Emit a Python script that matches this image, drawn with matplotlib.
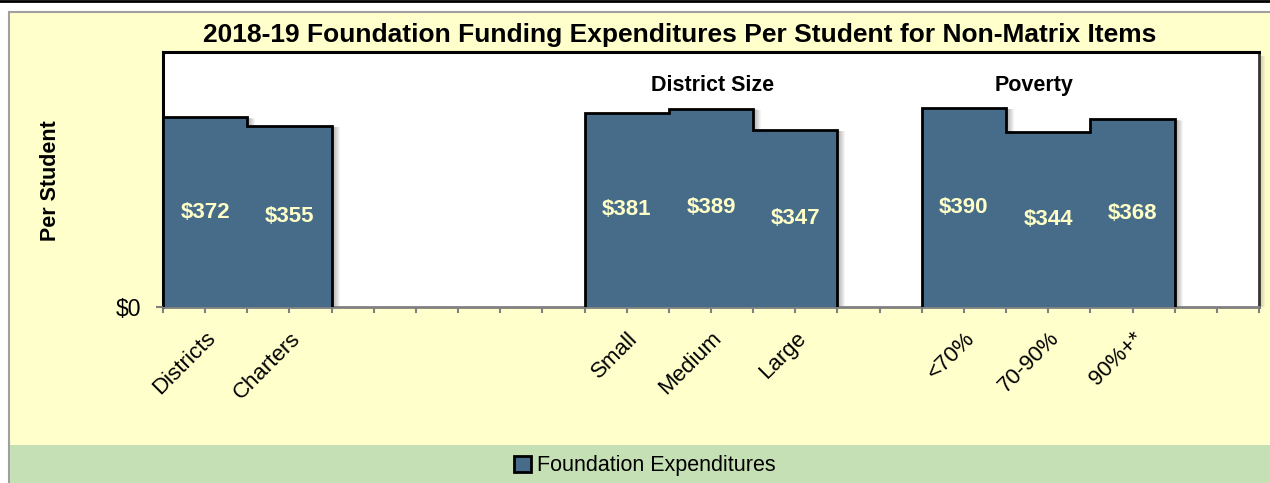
import numpy as np
import matplotlib
matplotlib.use("Agg")
import matplotlib.pyplot as plt
from matplotlib import font_manager
from matplotlib.patches import Rectangle
from matplotlib.lines import Line2D

# data
categories = ['Districts', 'Charters', '', '', '', 'Small', 'Medium', 'Large',
              '', '<70%', '70-90%', '90%+*', '']
values = [372, 355, np.nan, np.nan, np.nan, 381, 389, 347,
          np.nan, 390, 344, 368, np.nan]
group_labels = ['District Size', 'Poverty']
series_name = 'Foundation Expenditures'
title = '2018-19 Foundation Funding Expenditures Per Student for Non-Matrix Items'

names = {f.name for f in font_manager.fontManager.ttflist}
narrow = 'Liberation Sans Narrow' if 'Liberation Sans Narrow' in names else 'Liberation Sans'
plt.rcParams['font.family'] = [narrow, 'DejaVu Sans']

W, H = 1270, 483
bar_color = '#476C8A'
label_color = '#FFFFC8'
bg_yellow = '#FFFFCC'
bg_green = '#C5E0B4'

fig = plt.figure(figsize=(W / 100, H / 100), dpi=100, facecolor='white')

# background panels
fig.patches.append(Rectangle((9 / W, -0.1), 1, 1.1 - 12 / H, transform=fig.transFigure,
                             facecolor=bg_yellow, edgecolor='#A0A0A0', lw=1.5, zorder=-3))
fig.patches.append(Rectangle((10 / W, 0), 1, 38 / H, transform=fig.transFigure,
                             facecolor=bg_green, edgecolor='none', zorder=-2))
fig.lines.append(Line2D([0, 1], [1 - 1 / H, 1 - 1 / H], transform=fig.transFigure,
                        color='black', lw=2, zorder=-1))
# soft shadow right of the plot area
for k in range(1, 5):
    fig.lines.append(Line2D([(1260 + k) / W] * 2, [1 - 306 / H, 1 - 56 / H],
                            transform=fig.transFigure, color='black',
                            alpha=0.12 * (5 - k) / 4, lw=1, zorder=-1))

ax = fig.add_axes([163 / W, 1 - 307 / H, (1259 - 163) / W, (307 - 52) / H])
ax.set_zorder(2)
ax.set_facecolor('white')
n = len(categories)
ax.set_xlim(-0.5, n - 0.5)
ax.set_ylim(0, 500)

vals = np.array(values, dtype=float)
x = np.arange(n)
has = ~np.isnan(vals)
px_per_cat = (1259 - 163) / n

# find runs of adjacent bars to outline as one shape
runs = []
i = 0
while i < n:
    if has[i]:
        j = i
        while j + 1 < n and has[j + 1]:
            j += 1
        runs.append((i, j))
        i = j + 1
    else:
        i += 1


def outline(i0, i1):
    xs, ys = [i0 - 0.5], [0]
    for k in range(i0, i1 + 1):
        xs += [k - 0.5, k + 0.5]
        ys += [vals[k], vals[k]]
    xs.append(i1 + 0.5)
    ys.append(0)
    return np.array(xs), np.array(ys)


# drop shadow
for i0, i1 in runs:
    xs, ys = outline(i0, i1)
    for k in range(1, 9):
        ax.fill(xs + k / px_per_cat, ys - k * 0.3, color='black', alpha=0.045,
                lw=0, zorder=2)

ax.bar(x[has], vals[has], width=1.0, color=bar_color, edgecolor='none', zorder=3)

for i0, i1 in runs:
    xs, ys = outline(i0, i1)
    ax.plot(xs, ys, color='black', lw=2, zorder=4, solid_joinstyle='miter')

for xi, v in zip(x[has], vals[has]):
    ax.text(xi, v / 2, f'${v:.0f}', ha='center', va='center', color=label_color,
            fontsize=16, fontweight='bold', zorder=5)

ax.text(6.02, 434, group_labels[0], ha='center', va='center', fontsize=15.5,
        fontweight='bold', zorder=5)
ax.text(9.83, 434, group_labels[1], ha='center', va='center', fontsize=15.5,
        fontweight='bold', zorder=5)

# axes styling
for s in ['top', 'left']:
    ax.spines[s].set_color('black')
    ax.spines[s].set_linewidth(2.2)
ax.spines['right'].set_color('#333333')
ax.spines['right'].set_linewidth(2)
ax.spines['bottom'].set_color('#808080')
ax.spines['bottom'].set_linewidth(2)

ax.set_xticks(x)
ax.set_xticks(np.arange(-0.5, n, 1), minor=True)
ax.set_xticklabels(categories, rotation=45, ha='right', va='top',
                   rotation_mode='anchor', fontsize=16)
ax.tick_params(axis='x', which='both', direction='out', length=4, width=1.5,
               color='#808080', pad=11)
ax.set_yticks([0])
ax.set_yticklabels(['$0'], fontsize=16.5)
ax.tick_params(axis='y', direction='out', length=5, width=1.5, color='#808080', pad=11)

fig.text(51 / W, 1 - 181 / H, 'Per Student', rotation=90, ha='center', va='center',
         fontsize=15.5, fontweight='bold')
fig.text(680 / W, 1 - 35 / H, title, ha='center', va='center', fontsize=19,
         fontweight='bold')

handle = Rectangle((0, 0), 1, 1, facecolor=bar_color, edgecolor='black', lw=2)
fig.legend([handle], [series_name], loc='center', bbox_to_anchor=(645 / W, 1 - 466 / H),
           frameon=False, fontsize=15.5, handlelength=0.75, handleheight=0.75,
           handletextpad=0.3, borderpad=0)

fig.savefig('out.png', dpi=100, facecolor=fig.get_facecolor())
